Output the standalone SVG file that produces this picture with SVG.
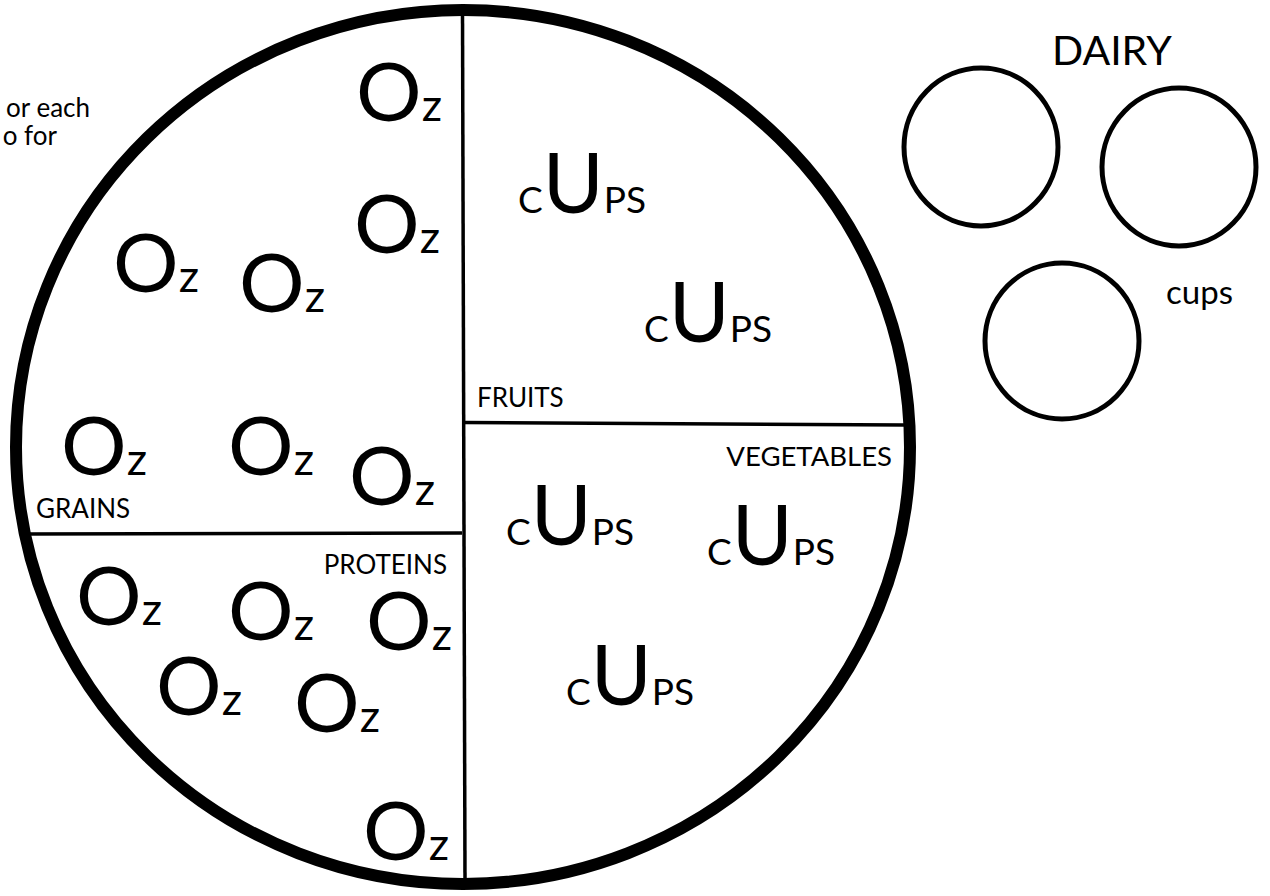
<svg xmlns="http://www.w3.org/2000/svg" width="1270" height="896" viewBox="0 0 1270 896">
  <style>
    text { font-family: "Lato", "Liberation Sans", sans-serif; fill: #000; }
    .label { font-size: 26px; }
    .note { font-size: 26px; }
    .big { font-size: 82px; }
    .sub { font-size: 45px; }
    .ubig { font-size: 83px; }
    .usm { font-size: 37px; }
    .plate { fill: #fff; stroke: #000; stroke-width: 12; }
    .divider { stroke: #000; stroke-width: 3.5; fill: none; }
    .cup { fill: #fff; stroke: #000; stroke-width: 5; }
  </style>
  <rect width="1270" height="896" fill="#fff"/>

  <!-- instructions, running off the left edge -->
  <g id="instructions">
    <text class="note" x="90" y="117" text-anchor="end">or each</text>
    <text class="note" x="57" y="145" text-anchor="end">o for</text>
  </g>

  <!-- plate -->
  <g id="plate">
    <ellipse class="plate" cx="463" cy="447" rx="447" ry="437"/>
  </g>

  <!-- section dividers -->
  <g id="connectors">
    <line class="divider" x1="462.5" y1="12" x2="465" y2="882"/>
    <line class="divider" x1="464" y1="422.5" x2="905" y2="425"/>
    <line class="divider" x1="24" y1="534" x2="462" y2="533"/>
  </g>

  <!-- grains section -->
  <g id="grains">
    <text class="label" x="36" y="518">GRAINS</text>
    <text x="356" y="121"><tspan class="big">O</tspan><tspan class="sub">z</tspan></text>
    <text x="354" y="253"><tspan class="big">O</tspan><tspan class="sub">z</tspan></text>
    <text x="113" y="292"><tspan class="big">O</tspan><tspan class="sub">z</tspan></text>
    <text x="239" y="312"><tspan class="big">O</tspan><tspan class="sub">z</tspan></text>
    <text x="61" y="475"><tspan class="big">O</tspan><tspan class="sub">z</tspan></text>
    <text x="228" y="475"><tspan class="big">O</tspan><tspan class="sub">z</tspan></text>
    <text x="349" y="505"><tspan class="big">O</tspan><tspan class="sub">z</tspan></text>
  </g>

  <!-- proteins section -->
  <g id="proteins">
    <text class="label" x="447" y="574" text-anchor="end">PROTEINS</text>
    <text x="76" y="625"><tspan class="big">O</tspan><tspan class="sub">z</tspan></text>
    <text x="228" y="640"><tspan class="big">O</tspan><tspan class="sub">z</tspan></text>
    <text x="366" y="650"><tspan class="big">O</tspan><tspan class="sub">z</tspan></text>
    <text x="156" y="715"><tspan class="big">O</tspan><tspan class="sub">z</tspan></text>
    <text x="294" y="732"><tspan class="big">O</tspan><tspan class="sub">z</tspan></text>
    <text x="363" y="860"><tspan class="big">O</tspan><tspan class="sub">z</tspan></text>
  </g>

  <!-- fruits section -->
  <g id="fruits">
    <text class="label" x="477" y="407">FRUITS</text>
    <text x="518" y="213"><tspan class="usm">C</tspan><tspan class="ubig">U</tspan><tspan class="usm">PS</tspan></text>
    <text x="644" y="342"><tspan class="usm">C</tspan><tspan class="ubig">U</tspan><tspan class="usm">PS</tspan></text>
  </g>

  <!-- vegetables section -->
  <g id="vegetables">
    <text class="label" x="892" y="466" text-anchor="end" style="font-size:27.5px">VEGETABLES</text>
    <text x="506" y="545"><tspan class="usm">C</tspan><tspan class="ubig">U</tspan><tspan class="usm">PS</tspan></text>
    <text x="707" y="565"><tspan class="usm">C</tspan><tspan class="ubig">U</tspan><tspan class="usm">PS</tspan></text>
    <text x="566" y="705"><tspan class="usm">C</tspan><tspan class="ubig">U</tspan><tspan class="usm">PS</tspan></text>
  </g>

  <!-- dairy cups -->
  <g id="dairy">
    <text x="1052" y="65" style="font-size:41px">DAIRY</text>
    <ellipse class="cup" cx="981" cy="147" rx="77" ry="79"/>
    <ellipse class="cup" cx="1179" cy="167" rx="77" ry="79"/>
    <ellipse class="cup" cx="1062" cy="341" rx="77" ry="78"/>
    <text x="1166" y="304" style="font-size:33px">cups</text>
  </g>
</svg>
